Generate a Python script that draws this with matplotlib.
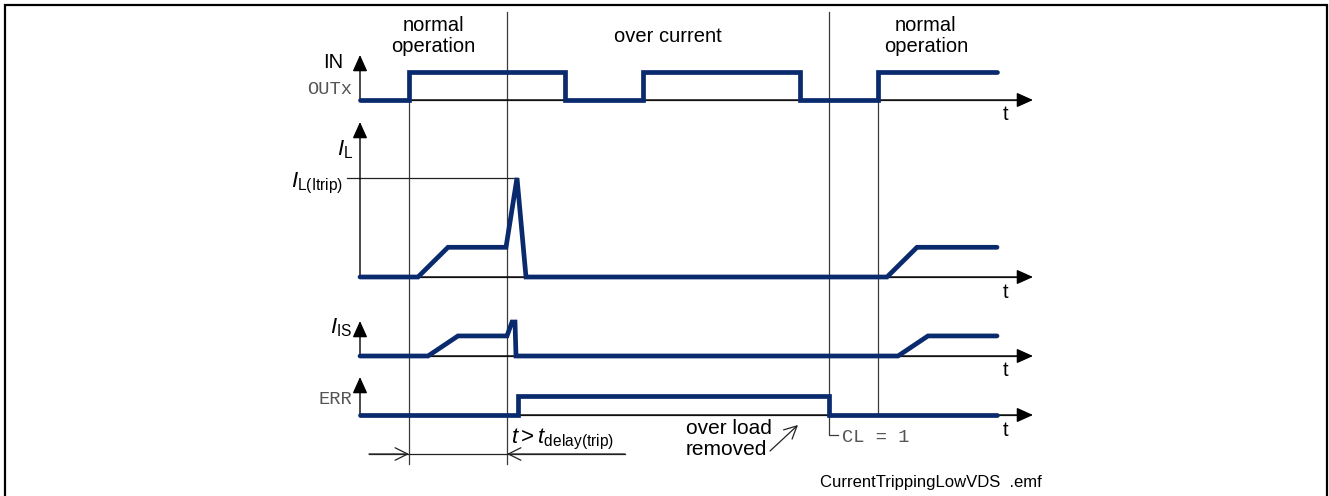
import matplotlib
matplotlib.use("Agg")
import matplotlib.pyplot as plt

plt.rcParams['font.family'] = ['Liberation Sans', 'DejaVu Sans']
plt.rcParams['mathtext.fontset'] = 'custom'
plt.rcParams['mathtext.rm'] = 'Liberation Sans'
plt.rcParams['mathtext.it'] = 'Liberation Sans:italic'
plt.rcParams['mathtext.bf'] = 'Liberation Sans:bold'

# waveforms: time (relative to the y axis) and normalised level
out_t = [0, 49, 49, 205, 205, 283, 283, 440, 440, 518, 518, 637]
out_v = [0, 0, 1, 1, 0, 0, 1, 1, 0, 0, 1, 1]

il_t = [0, 58, 88, 146, 157, 166, 527, 557, 637]
il_v = [0, 0, 0.30, 0.30, 1.0, 0, 0, 0.30, 0.30]

is_t = [0, 68, 98, 147, 152, 155, 156, 538, 568, 637]
is_v = [0, 0, 0.59, 0.59, 1.0, 1.0, 0, 0, 0.59, 0.59]

err_t = [0, 158, 158, 469, 469, 637]
err_v = [0, 0, 1, 1, 0, 0]

# event times: IN on, trip, CL reset, IN on again
events = [49, 147, 469, 518]

phases = ["normal\noperation", "over current", "normal\noperation"]
phase_t = [73, 308, 566]

NAVY = '#0a2a6e'
GRID = '#3a3a3a'
MONO = ['Liberation Mono', 'DejaVu Sans Mono']

fig = plt.figure(figsize=(13.29, 4.96), dpi=100)
ax = fig.add_axes([0, 0, 1, 1])
ax.set_xlim(0, 1329)
ax.set_ylim(496, 0)
ax.axis('off')

x0 = 360      # y axes position
x_end = 1033  # t arrow tip

# channel layout: baseline y, amplitude of level 1, axis arrow tip
chan = {
    'out': (100, 28, 55),
    'il': (277, 99, 122),
    'is': (356, 34, 321),
    'err': (415, 19, 377),
}


def head(tip, tail, color='black'):
    ax.annotate('', xy=tip, xytext=tail,
                arrowprops=dict(arrowstyle='-|>,head_length=1.0,head_width=0.45',
                                mutation_scale=10, color=color, lw=1.0,
                                shrinkA=0, shrinkB=0))


def channel(key, t, v):
    base, amp, top = chan[key]
    ax.plot([x0, x_end - 5], [base, base], color='#333333', lw=0.9, zorder=1)
    head((x_end, base), (x0, base))
    head((x0, top), (x0, base))
    ax.text(1006, base + 15, 't', fontsize=14.5, ha='center', va='center')
    xs = [x0 + ti for ti in t]
    ys = [base - vi * amp for vi in v]
    ax.plot(xs, ys, color=NAVY, lw=3.4, solid_joinstyle='miter',
            solid_capstyle='round', zorder=3)


channel('out', out_t, out_v)
channel('il', il_t, il_v)
channel('is', is_t, is_v)
channel('err', err_t, err_v)

# vertical event markers
ax.plot([x0 + events[0]] * 2, [100, 464], color=GRID, lw=0.9, zorder=2)
ax.plot([x0 + events[1]] * 2, [12, 464], color=GRID, lw=0.9, zorder=2)
ax.plot([x0 + events[2], x0 + events[2], x0 + events[2] + 9], [12, 435, 435],
        color=GRID, lw=0.9, zorder=2)
ax.plot([x0 + events[3]] * 2, [100, 413], color=GRID, lw=0.9, zorder=2)

# trip level reference
il_base, il_amp, _ = chan['il']
trip_y = il_base - il_amp * max(il_v)
ax.plot([347, x0 + il_t[il_v.index(max(il_v))]], [trip_y, trip_y],
        color='#222222', lw=0.9, zorder=2)

# phase captions
for txt, t in zip(phases, phase_t):
    ax.text(x0 + t, 36, txt, fontsize=14.5, ha='center', va='center',
            linespacing=1.15)

# signal names
ax.text(343, 63, 'IN', fontsize=14.5, ha='right', va='center')
ax.text(352, 90, 'OUTx', fontsize=13.5, ha='right', va='center',
        family=MONO, color='#555555')
ax.text(353, 150, r'$I_{\mathrm{L}}$', fontsize=16, ha='right', va='center')
ax.text(343, 183, r'$I_{\mathrm{L(Itrip)}}$', fontsize=16, ha='right',
        va='center')
ax.text(352, 328, r'$I_{\mathrm{IS}}$', fontsize=16, ha='right', va='center')
ax.text(352, 400, 'ERR', fontsize=13.5, ha='right', va='center',
        family=MONO, color='#555555')

# delay dimension line
ax.plot([369, 625], [454, 454], color='#222222', lw=0.9)
for tip, tail in [((x0 + events[0], 454), (369, 454)),
                  ((x0 + events[1], 454), (625, 454))]:
    ax.annotate('', xy=tip, xytext=tail,
                arrowprops=dict(arrowstyle='->,head_length=0.9,head_width=0.45',
                                mutation_scale=10, color='#222222', lw=0.9,
                                shrinkA=0, shrinkB=0))
ax.text(511, 443, r'$t > t_{\mathrm{delay(trip)}}$', fontsize=16,
        ha='left', va='baseline')

# load removal note
ax.annotate('', xy=(798, 425), xytext=(770, 451),
            arrowprops=dict(arrowstyle='->,head_length=0.9,head_width=0.45',
                            mutation_scale=10, color='#222222', lw=0.9,
                            shrinkA=0, shrinkB=0))
ax.text(686, 455, 'over load\nremoved', fontsize=15, ha='left',
        va='baseline', linespacing=1.1)
ax.text(x0 + events[2] + 13, 437, 'CL = 1', fontsize=13.5, ha='left',
        va='center', family=MONO, color='#555555')

ax.text(820, 487, 'CurrentTrippingLowVDS  .emf', fontsize=12, ha='left',
        va='baseline')

# frame
ax.plot([5, 5, 1327, 1327], [497, 5, 5, 497], color='black', lw=1.6,
        solid_joinstyle='miter')

fig.savefig('out.png', dpi=100)
